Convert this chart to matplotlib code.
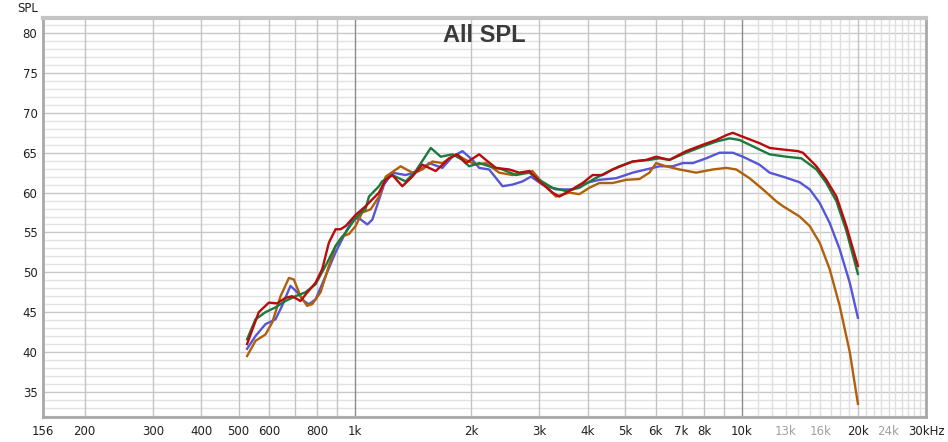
import matplotlib.pyplot as plt
import numpy as np

# traced SPL curves (Hz, dB)
red_f = [526, 564, 599, 629, 661, 688, 723, 745, 791, 823, 856, 891, 918, 946, 1004, 1066, 1154,
         1201, 1249, 1326, 1407, 1494, 1618, 1752, 1841, 1935, 2096, 2181, 2315, 2506, 2660, 2824,
         2997, 3244, 3377, 3584, 3880, 4119, 4372, 4641, 5229, 5664, 6012, 6509, 7190, 7940, 8600,
         9130, 9490, 10080, 11130, 11820, 12790, 13990, 14410, 15620, 16570, 17600, 18670, 20000]
red_db = [41.0, 45.0, 46.2, 46.1, 46.8, 47.0, 46.4, 47.2, 48.7, 50.4, 53.7, 55.4, 55.4, 55.8, 57.2,
          58.3, 60.0, 61.6, 62.2, 60.8, 62.0, 63.5, 62.7, 64.3, 64.8, 63.7, 64.8, 64.1, 63.1, 62.9,
          62.5, 62.7, 61.4, 60.0, 59.5, 60.2, 61.2, 62.2, 62.2, 62.9, 63.9, 64.1, 64.5, 64.1, 65.2,
          66.0, 66.6, 67.2, 67.5, 67.0, 66.2, 65.6, 65.4, 65.2, 65.0, 63.3, 61.6, 59.5, 55.8, 50.8]

green_f = [526, 553, 587, 623, 661, 702, 745, 791, 839, 891, 946, 1004, 1066, 1087, 1154, 1175,
           1249, 1353, 1436, 1571, 1667, 1787, 1897, 1974, 2096, 2224, 2408, 2608, 2824, 2997, 3244,
           3377, 3514, 3804, 4119, 4461, 4829, 5229, 5777, 6133, 6509, 7190, 7940, 8600, 9310,
           9880, 10700, 11820, 13050, 14280, 15620, 16570, 17600, 18670, 20000]
green_db = [41.6, 44.1, 45.0, 45.6, 46.4, 47.0, 47.5, 48.5, 50.8, 53.3, 55.0, 56.8, 58.0, 59.5,
            60.8, 61.4, 62.2, 61.4, 62.7, 65.6, 64.5, 64.8, 64.1, 63.3, 63.7, 63.3, 62.9, 62.2,
            62.5, 61.6, 60.6, 60.4, 60.2, 60.6, 61.6, 62.5, 63.3, 63.9, 64.1, 64.3, 64.1, 65.0,
            65.8, 66.4, 66.8, 66.6, 65.8, 64.8, 64.5, 64.3, 62.9, 61.2, 58.9, 55.2, 49.8]

blue_f = [526, 553, 587, 623, 648, 681, 709, 738, 760, 791, 839, 891, 946, 984, 1024, 1076, 1109,
          1154, 1189, 1249, 1353, 1465, 1555, 1684, 1787, 1897, 2013, 2096, 2224, 2408, 2556, 2713,
          2852, 3057, 3311, 3656, 3959, 4287, 4735, 5229, 5664, 6133, 6637, 7045, 7480, 8100, 8770,
          9490, 10080, 11130, 11820, 12790, 14130, 15010, 15930, 16900, 17940, 19050, 20000]
blue_db = [40.4, 42.0, 43.5, 44.1, 45.8, 48.3, 47.5, 46.4, 46.0, 46.6, 49.5, 52.5, 55.0, 56.6,
           56.8, 56.0, 56.6, 59.1, 61.0, 62.5, 62.2, 62.7, 63.7, 63.1, 64.5, 65.2, 64.1, 63.1,
           62.9, 60.8, 61.0, 61.4, 62.0, 61.0, 60.4, 60.4, 61.2, 61.6, 61.8, 62.5, 62.9, 63.3,
           63.3, 63.7, 63.7, 64.3, 65.0, 65.0, 64.5, 63.5, 62.5, 62.0, 61.3, 60.4, 58.7, 56.2,
           52.9, 48.7, 44.3]

brown_f = [526, 553, 587, 611, 642, 675, 695, 723, 752, 775, 815, 856, 891, 927, 965, 1004, 1044,
           1098, 1154, 1201, 1313, 1407, 1494, 1586, 1684, 1823, 1935, 2054, 2181, 2361, 2556,
           2713, 2879, 3057, 3311, 3584, 3804, 4038, 4287, 4641, 5026, 5442, 5777, 6012, 6381,
           6908, 7630, 8430, 9130, 9690, 10490, 11360, 12300, 12790, 14130, 15010, 15930, 16900,
           17940, 19050, 20000]
brown_db = [39.5, 41.4, 42.2, 43.7, 47.0, 49.3, 49.1, 47.0, 45.8, 46.0, 47.5, 50.8, 53.3, 54.5,
            54.8, 55.8, 57.5, 57.9, 59.5, 62.0, 63.3, 62.5, 62.9, 63.9, 63.7, 64.8, 64.1, 63.5,
            63.7, 62.5, 62.2, 62.5, 62.7, 61.2, 59.5, 60.0, 59.8, 60.6, 61.2, 61.2, 61.6, 61.7,
            62.5, 63.7, 63.3, 62.9, 62.5, 62.9, 63.1, 62.9, 61.8, 60.4, 58.9, 58.3, 57.0, 55.8,
            53.7, 50.4, 45.8, 40.0, 33.5]

xtick_vals = [156, 200, 300, 400, 500, 600, 800, 1000, 2000, 3000, 4000, 5000, 6000, 7000, 8000,
              10000, 13000, 16000, 20000, 24000, 30000]
xtick_labels = ['156', '200', '300', '400', '500', '600', '800', '1k', '2k', '3k', '4k', '5k',
                '6k', '7k', '8k', '10k', '13k', '16k', '20k', '24k', '30kHz']
faint_labels = ['13k', '16k', '24k']

fig = plt.figure(figsize=(9.48, 4.42), dpi=100)
ax = fig.add_axes([43 / 948, 25 / 442, 883 / 948, 399 / 442])
ax.set_xscale('log')
ax.set_xlim(156, 30000)
ax.set_ylim(31.85, 81.9)

# grid
for v in range(32, 82):
    ax.axhline(v, color='#c8c8c8' if v % 5 == 0 else '#e2e2e2', lw=1.0, zorder=0)
for f in [200, 300, 400, 500, 600, 700, 800, 900, 2000, 3000, 4000, 5000, 6000, 7000, 8000, 9000, 20000]:
    ax.axvline(f, color='#c4c4c4', lw=1.0, zorder=0)
for f in list(range(11000, 20000, 1000)) + list(range(21000, 30000, 1000)):
    ax.axvline(f, color='#dedede', lw=1.0, zorder=0)
for f in [1000, 10000]:
    ax.axvline(f, color='#8c8c8c', lw=1.0, zorder=0)

ax.plot(blue_f, blue_db, color='#5656d8', lw=1.7, zorder=3)
ax.plot(brown_f, brown_db, color='#b0600a', lw=1.7, zorder=3)
ax.plot(green_f, green_db, color='#1b7a3e', lw=1.7, zorder=4)
ax.plot(red_f, red_db, color='#b80c0c', lw=1.7, zorder=5)

ax.set_xticks(xtick_vals)
ax.set_xticklabels(xtick_labels)
ax.xaxis.set_minor_locator(plt.NullLocator())
ax.set_yticks(range(35, 81, 5))
ax.tick_params(length=0, labelsize=8.5, colors='#202020', pad=6)
ax.tick_params(axis='y', pad=4)
for lab in ax.get_xticklabels():
    if lab.get_text() in faint_labels:
        lab.set_color('#a0a0a0')

for side in ['top', 'bottom', 'left', 'right']:
    ax.spines[side].set_color('#a8a8a8')
    ax.spines[side].set_linewidth(2.0)
ax.spines['top'].set_color('#c4c4c4')
ax.spines['top'].set_linewidth(3.0)

fig.text(28 / 948, 1 - 8 / 442, 'SPL', ha='center', va='center', fontsize=8.5, color='#202020')
fig.text(484 / 948, 1 - 36 / 442, 'All SPL', ha='center', va='center', fontsize=17,
         family='Liberation Sans', fontweight='bold', color='#3a3a3a')

fig.savefig('out.png', dpi=100)
